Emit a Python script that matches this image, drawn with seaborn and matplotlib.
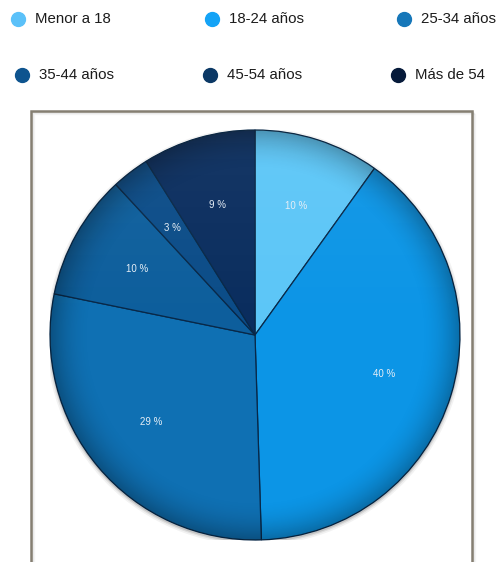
import numpy as np
import matplotlib
matplotlib.use("Agg")
import matplotlib.pyplot as plt
import seaborn as sns
from matplotlib.patches import Rectangle, Circle
from matplotlib.lines import Line2D

# Age groups and their share of the audience (percent)
categories = ["Menor a 18", "18-24 años", "25-34 años", "35-44 años", "45-54 años", "Más de 54"]
shares = [10, 40, 29, 10, 3, 9]

# Slice fill colours and legend dot colours
slice_colors = ["#5cc6f7", "#0c95e6", "#0f70b3", "#0d5e9c", "#0b4c88", "#0a2d5e"]
dot_colors = ["#5bc1f9", "#14a3f6", "#1677b9", "#0e548f", "#0b3865", "#061a3a"]

sns.set_theme(style="white")
plt.rcParams["font.family"] = ["Liberation Sans", "DejaVu Sans"]

W, H = 498, 562
fig = plt.figure(figsize=(W / 100, H / 100), dpi=100)
fig.patch.set_facecolor("white")


def fx(px):
    return px / W


def fy(py):
    return 1 - py / H


# ---- legend: two rows of three coloured dots with labels ----
row_y = [19, 75]
dot_x = [[18, 212, 404], [22, 210, 398]]
for i, (label, col) in enumerate(zip(categories, dot_colors)):
    r, c = divmod(i, 3)
    x0, y0 = dot_x[r][c], row_y[r]
    fig.add_artist(Line2D([fx(x0)], [fy(y0)], marker="o", markersize=10,
                          markerfacecolor=col, markeredgecolor=col,
                          linestyle="none", transform=fig.transFigure))
    fig.text(fx(x0 + 17), fy(y0), label, fontsize=10.8, color="#1c1c1c",
             ha="left", va="center")

# ---- framed chart panel ----
for k, a in enumerate([0.10, 0.06, 0.03]):
    fig.add_artist(Rectangle((fx(31 + k + 1), -0.05), fx(441), fy(111 + k + 1) + 0.05,
                             transform=fig.transFigure, fill=False,
                             edgecolor="black", alpha=a, linewidth=1.0))
fig.add_artist(Rectangle((fx(31), -0.05), fx(441), fy(111) + 0.05,
                         transform=fig.transFigure, fill=False,
                         edgecolor="#857f72", linewidth=1.8))

# ---- pie ----
cx, cy, R = 255, 335, 205
ax = fig.add_axes([fx(cx - R), fy(cy + R), 2 * R / W, 2 * R / H])

# soft drop shadow below the disc
for rr, a in [(1.018, 0.05), (1.010, 0.08), (1.004, 0.12)]:
    ax.add_patch(Circle((0, -0.008), rr, facecolor="black", alpha=a,
                        edgecolor="none", zorder=0))

wedges, texts, autotexts = ax.pie(
    shares, colors=slice_colors, startangle=90, counterclock=False,
    autopct="%d", pctdistance=0.66,
    wedgeprops=dict(edgecolor="#082848", linewidth=0.9, zorder=2),
    textprops=dict(fontsize=7, color="#e6eef6"))
for t, v in zip(autotexts, shares):
    t.set_text(f"{v} %")
    t.set_zorder(5)

# shading over the disc: darker rim, slightly lighter top
n = 400
g = np.linspace(-1, 1, n)
X, Y = np.meshgrid(g, g)
Rr = np.sqrt(X ** 2 + Y ** 2)
rim = np.clip((Rr - 0.80) / 0.20, 0, 1) ** 2 * 0.28
img = np.zeros((n, n, 4))
img[..., 3] = rim
im = ax.imshow(img, extent=(-1, 1, -1, 1), origin="lower", zorder=3,
               interpolation="bilinear")
im.set_clip_path(Circle((0, 0), 1, transform=ax.transData))
top = np.zeros((n, n, 4))
top[..., :3] = 1.0
top[..., 3] = np.clip(Y, 0, 1) * 0.05
im2 = ax.imshow(top, extent=(-1, 1, -1, 1), origin="lower", zorder=3,
                interpolation="bilinear")
im2.set_clip_path(Circle((0, 0), 1, transform=ax.transData))

ax.set_xlim(-1, 1)
ax.set_ylim(-1, 1)
ax.set_aspect("auto")
ax.axis("off")

fig.savefig("out.png", dpi=100)
